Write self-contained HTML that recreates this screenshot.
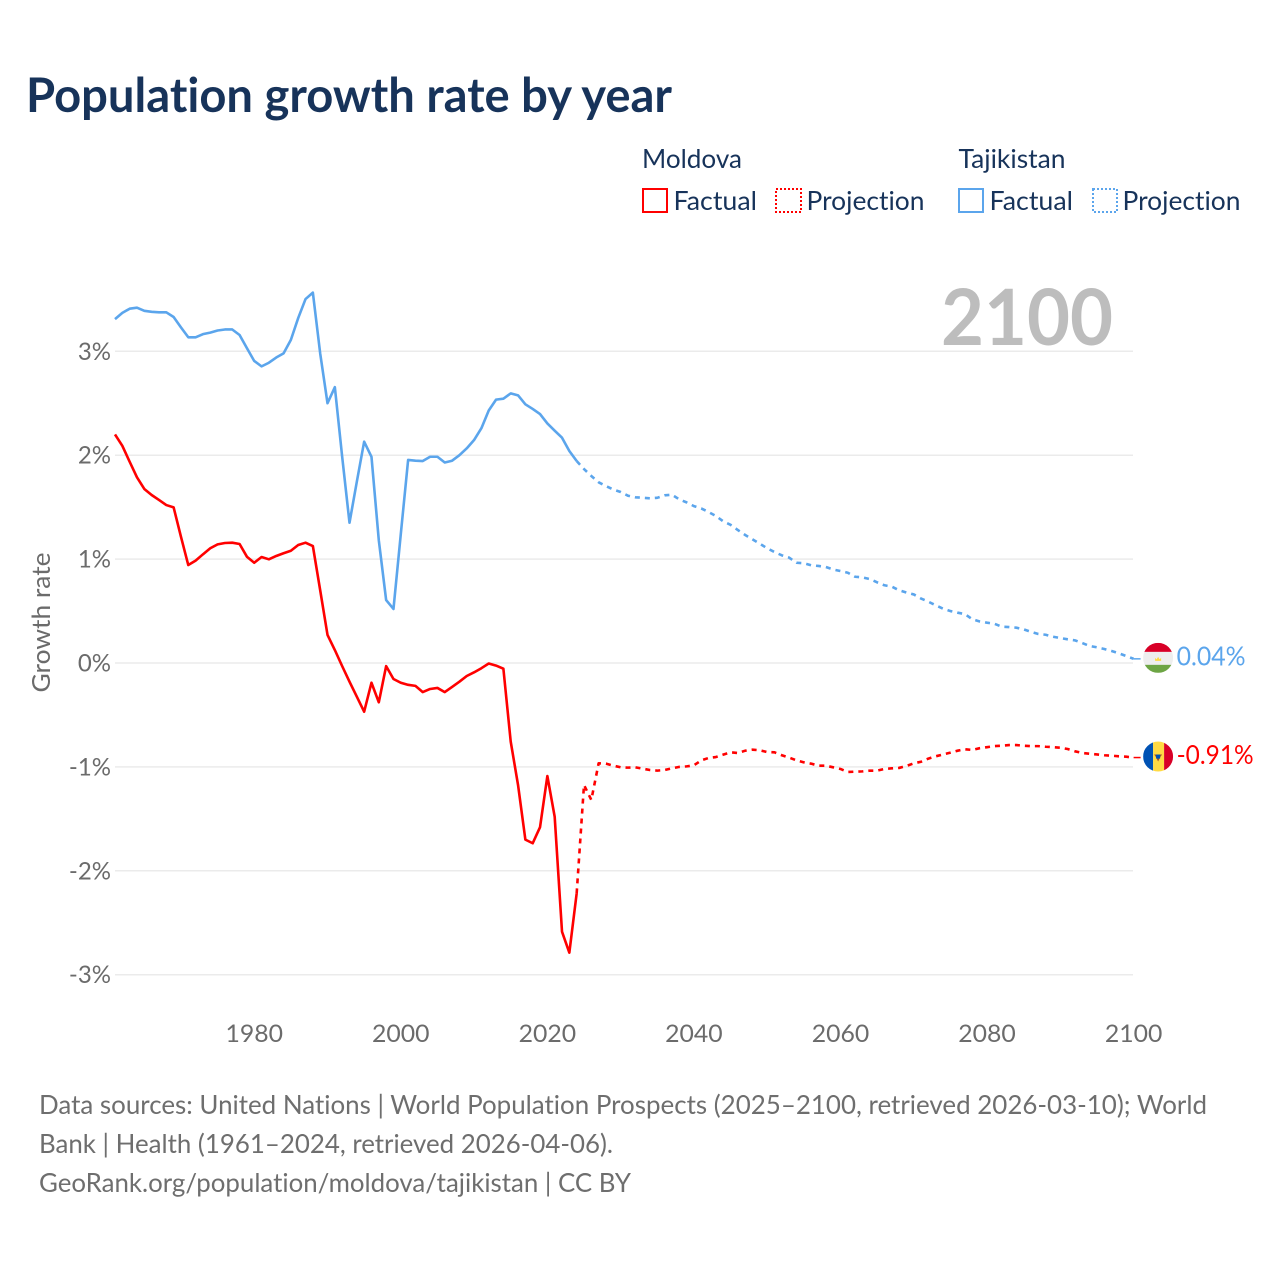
<!DOCTYPE html>
<html lang="en">
<head>
<meta charset="utf-8">
<title>Population growth rate by year</title>
<style>
html,body{margin:0;padding:0;background:#fff;}
svg{display:block;font-family:"Lato","Carlito","Liberation Sans",sans-serif;font-variant-ligatures:none;font-feature-settings:"liga" 0,"clig" 0;}
</style>
</head>
<body>
<svg id="chart" width="1280" height="1280" viewBox="0 0 1280 1280" xmlns="http://www.w3.org/2000/svg">
  <rect x="0" y="0" width="1280" height="1280" fill="#ffffff"/>
  <text x="26" y="112" font-size="48" font-weight="700" fill="#17335a" textLength="646" lengthAdjust="spacingAndGlyphs">Population growth rate by year</text>

  <g font-size="26" fill="#17335a">
    <text x="642" y="168" textLength="100" lengthAdjust="spacingAndGlyphs">Moldova</text>
    <text x="958.5" y="168" textLength="107" lengthAdjust="spacingAndGlyphs">Tajikistan</text>
    <g>
      <rect x="643" y="189" width="24" height="23" fill="none" stroke="#ff0000" stroke-width="2"/>
      <text x="673.5" y="210" textLength="83.5" lengthAdjust="spacingAndGlyphs">Factual</text>
    </g>
    <g>
      <rect x="776" y="189" width="25" height="23" fill="none" stroke="#ff0000" stroke-width="2" stroke-dasharray="2 2"/>
      <text x="806.5" y="210" textLength="118" lengthAdjust="spacingAndGlyphs">Projection</text>
    </g>
    <g>
      <rect x="959" y="189" width="24" height="23" fill="none" stroke="#5ba5ec" stroke-width="2"/>
      <text x="989.5" y="210" textLength="83.5" lengthAdjust="spacingAndGlyphs">Factual</text>
    </g>
    <g>
      <rect x="1093" y="189" width="24" height="23" fill="none" stroke="#5ba5ec" stroke-width="2" stroke-dasharray="2 2"/>
      <text x="1122.5" y="210" textLength="118" lengthAdjust="spacingAndGlyphs">Projection</text>
    </g>
  </g>

  <g id="grid"></g>
  <text x="941" y="345" font-size="78" font-weight="700" fill="#bdbdbd" textLength="172" lengthAdjust="spacingAndGlyphs">2100</text>
  <g id="yAxis" font-size="24" fill="#6b6b6b" text-anchor="end"></g>
  <g id="xAxis" font-size="24" fill="#6b6b6b" text-anchor="middle"></g>
  <text transform="translate(50 622.5) rotate(-90)" font-size="25" fill="#6b6b6b" text-anchor="middle" textLength="140" lengthAdjust="spacingAndGlyphs">Growth rate</text>

  <g id="series" fill="none" stroke-width="2.6" stroke-linejoin="round"></g>

  <g id="flagTajikistan">
    <clipPath id="clipTj"><circle cx="0" cy="0" r="15"/></clipPath>
    <g clip-path="url(#clipTj)">
      <rect x="-15" y="-15" width="30" height="30" fill="#eeeeee"/>
      <rect x="-15" y="-15" width="30" height="9" fill="#d80027"/>
      <rect x="-15" y="7" width="30" height="8" fill="#6da544"/>
      <path d="M-3 3 L-3 0 L-1.5 1.5 L0 -1 L1.5 1.5 L3 0 L3 3 Z" fill="#ffda44"/>
    </g>
  </g>
  <g id="flagMoldova">
    <clipPath id="clipMd"><circle cx="0" cy="0" r="15"/></clipPath>
    <g clip-path="url(#clipMd)">
      <rect x="-15" y="-15" width="10" height="30" fill="#0052b4"/>
      <rect x="-5" y="-15" width="11" height="30" fill="#ffda44"/>
      <rect x="6" y="-15" width="9" height="30" fill="#d80027"/>
      <path d="M-4 -2 L4 -2 L2.5 0 L0 5 L-2.5 0 Z" fill="#a2502a"/>
      <rect x="-2" y="-2" width="4" height="4" fill="#0052b4"/>
    </g>
  </g>
  <g id="endLabels" font-size="26"></g>

  <g font-size="26" fill="#6e6e6e">
    <text x="39" y="1114" textLength="1168" lengthAdjust="spacingAndGlyphs">Data sources: United Nations | World Population Prospects (2025–2100, retrieved 2026-03-10); World</text>
    <text x="39" y="1153" textLength="574" lengthAdjust="spacingAndGlyphs">Bank | Health (1961–2024, retrieved 2026-04-06).</text>
    <text x="39" y="1192" textLength="592" lengthAdjust="spacingAndGlyphs">GeoRank.org/population/moldova/tajikistan | CC BY</text>
  </g>
</svg>
<script>
const factualYears = [1961,1962,1963,1964,1965,1966,1967,1968,1969,1970,1971,1972,1973,1974,1975,1976,1977,1978,1979,1980,1981,1982,1983,1984,1985,1986,1987,1988,1989,1990,1991,1992,1993,1994,1995,1996,1997,1998,1999,2000,2001,2002,2003,2004,2005,2006,2007,2008,2009,2010,2011,2012,2013,2014,2015,2016,2017,2018,2019,2020,2021,2022,2023,2024];
const projectionYears = [2024,2025,2026,2027,2028,2029,2030,2031,2032,2033,2034,2035,2036,2037,2038,2039,2040,2041,2042,2043,2044,2045,2046,2047,2048,2049,2050,2051,2052,2053,2054,2055,2056,2057,2058,2059,2060,2061,2062,2063,2064,2065,2066,2067,2068,2069,2070,2071,2072,2073,2074,2075,2076,2077,2078,2079,2080,2081,2082,2083,2084,2085,2086,2087,2088,2089,2090,2091,2092,2093,2094,2095,2096,2097,2098,2099,2100];
const tajikistanFactual = [3.31,3.37,3.41,3.42,3.39,3.38,3.375,3.375,3.33,3.23,3.135,3.135,3.165,3.18,3.2,3.21,3.21,3.157,3.03,2.907,2.855,2.89,2.94,2.98,3.11,3.32,3.503,3.565,2.98,2.5,2.655,1.985,1.35,1.745,2.13,1.985,1.18,0.606,0.52,1.24,1.954,1.947,1.944,1.985,1.985,1.93,1.947,2.0,2.066,2.146,2.26,2.43,2.535,2.544,2.595,2.576,2.49,2.445,2.396,2.306,2.236,2.168,2.04,1.944];
const tajikistanProjection = [1.944,1.867,1.8,1.739,1.703,1.67,1.646,1.61,1.595,1.59,1.585,1.59,1.614,1.62,1.575,1.546,1.51,1.488,1.453,1.415,1.363,1.33,1.28,1.232,1.19,1.148,1.104,1.068,1.036,1.014,0.965,0.96,0.94,0.934,0.924,0.9,0.885,0.869,0.83,0.824,0.808,0.776,0.748,0.735,0.7,0.678,0.66,0.62,0.59,0.555,0.523,0.5,0.484,0.47,0.42,0.4,0.388,0.378,0.35,0.346,0.34,0.324,0.3,0.279,0.272,0.253,0.24,0.228,0.218,0.192,0.164,0.151,0.135,0.115,0.093,0.067,0.04];
const moldovaFactual = [2.2,2.09,1.937,1.787,1.675,1.617,1.569,1.52,1.498,1.216,0.943,0.985,1.046,1.104,1.142,1.155,1.158,1.145,1.023,0.965,1.02,0.998,1.03,1.056,1.08,1.136,1.158,1.126,0.7,0.27,0.125,-0.03,-0.18,-0.324,-0.469,-0.19,-0.378,-0.03,-0.154,-0.19,-0.21,-0.22,-0.28,-0.25,-0.24,-0.28,-0.23,-0.18,-0.125,-0.09,-0.05,-0.005,-0.025,-0.055,-0.757,-1.174,-1.7,-1.735,-1.58,-1.088,-1.48,-2.586,-2.788,-2.217];
const moldovaProjection = [-2.217,-1.174,-1.318,-0.965,-0.969,-0.988,-1.004,-1.007,-1.004,-1.017,-1.03,-1.036,-1.03,-1.014,-1.0,-0.995,-0.985,-0.937,-0.914,-0.905,-0.882,-0.86,-0.866,-0.844,-0.834,-0.84,-0.857,-0.86,-0.888,-0.911,-0.937,-0.956,-0.969,-0.988,-0.988,-1.004,-1.02,-1.049,-1.046,-1.043,-1.036,-1.036,-1.02,-1.014,-1.01,-0.991,-0.966,-0.95,-0.92,-0.898,-0.88,-0.863,-0.844,-0.83,-0.837,-0.82,-0.81,-0.8,-0.796,-0.79,-0.79,-0.796,-0.8,-0.8,-0.806,-0.81,-0.815,-0.828,-0.85,-0.866,-0.873,-0.88,-0.888,-0.892,-0.898,-0.902,-0.91];
const yTickValues = [3,2,1,0,-1,-2,-3];
const yTickLabels = ['3%','2%','1%','0%','-1%','-2%','-3%'];
const xTickValues = [1980,2000,2020,2040,2060,2080,2100];
const xTickLabels = ['1980','2000','2020','2040','2060','2080','2100'];

const NS = 'http://www.w3.org/2000/svg';
function xScale(year){ return 115 + (year - 1961) * (1133.6 - 115) / (2100 - 1961); }
function yScale(value){ return 663 - value * 103.9; }
function linePath(years, values){
  return values.map(function(v, i){
    return (i ? 'L' : 'M') + xScale(years[i]).toFixed(2) + ' ' + yScale(v).toFixed(2);
  }).join(' ');
}

const grid = document.getElementById('grid');
const yAxis = document.getElementById('yAxis');
yTickValues.forEach(function(v, i){
  const line = document.createElementNS(NS, 'line');
  
  
  line.setAttribute('x1', 115);
  line.setAttribute('x2', 1133);
  line.setAttribute('y1', yScale(v));
  line.setAttribute('y2', yScale(v));
  line.setAttribute('stroke', '#ebebeb');
  line.setAttribute('stroke-width', '1.5');
  grid.appendChild(line);
  const label = document.createElementNS(NS, 'text');
  
  
  label.setAttribute('x', 111);
  label.setAttribute('y', yScale(v) + 8.5);
  label.textContent = yTickLabels[i];
  yAxis.appendChild(label);
});

const xAxis = document.getElementById('xAxis');
xTickValues.forEach(function(v, i){
  const label = document.createElementNS(NS, 'text');
  
  
  label.setAttribute('x', xScale(v));
  label.setAttribute('y', 1042);
  label.setAttribute('textLength', 57.5);
  label.setAttribute('lengthAdjust', 'spacingAndGlyphs');
  label.textContent = xTickLabels[i];
  xAxis.appendChild(label);
});

const series = document.getElementById('series');
function addLine(name, years, values, color, dashed){
  const p = document.createElementNS(NS, 'path');
  
  
  p.setAttribute('d', linePath(years, values));
  p.setAttribute('stroke', color);
  if (dashed) { p.setAttribute('stroke-dasharray', '5 5'); }
  series.appendChild(p);
}
const blue = '#5ba5ec';
const red = '#ff0000';
addLine('tajikistan-factual-line', factualYears, tajikistanFactual, blue, false);
addLine('tajikistan-projection-line', projectionYears, tajikistanProjection, blue, true);
addLine('moldova-factual-line', factualYears, moldovaFactual, red, false);
addLine('moldova-projection-line', projectionYears, moldovaProjection, red, true);

const endTj = tajikistanProjection[tajikistanProjection.length - 1];
const endMd = moldovaProjection[moldovaProjection.length - 1];
const endYear = projectionYears[projectionYears.length - 1];
const flagX = xScale(endYear) + 24.5;

function addLeader(name, value, color){
  const l = document.createElementNS(NS, 'line');
  
  
  l.setAttribute('x1', xScale(endYear));
  l.setAttribute('x2', xScale(endYear) + 7);
  l.setAttribute('y1', yScale(value));
  l.setAttribute('y2', yScale(value));
  l.setAttribute('stroke', color);
  l.setAttribute('stroke-width', '1.5');
  series.appendChild(l);
}
addLeader('tajikistan-leader-line', endTj, blue);
addLeader('moldova-leader-line', endMd, red);

document.getElementById('flagTajikistan').setAttribute('transform', 'translate(' + flagX + ' ' + (yScale(endTj) - 1) + ')');
document.getElementById('flagMoldova').setAttribute('transform', 'translate(' + flagX + ' ' + (yScale(endMd) - 1) + ')');

const endLabels = document.getElementById('endLabels');
function addEndLabel(name, value, color, width){
  const t = document.createElementNS(NS, 'text');
  
  
  t.setAttribute('x', flagX + 18.5);
  t.setAttribute('y', yScale(value) + 6.5);
  t.setAttribute('fill', color);
  t.setAttribute('textLength', width);
  t.setAttribute('lengthAdjust', 'spacingAndGlyphs');
  t.textContent = value.toFixed(2) + '%';
  endLabels.appendChild(t);
}
addEndLabel('tajikistan-end-label', endTj, blue, 69);
addEndLabel('moldova-end-label', endMd, red, 77);
</script>
</body>
</html>
